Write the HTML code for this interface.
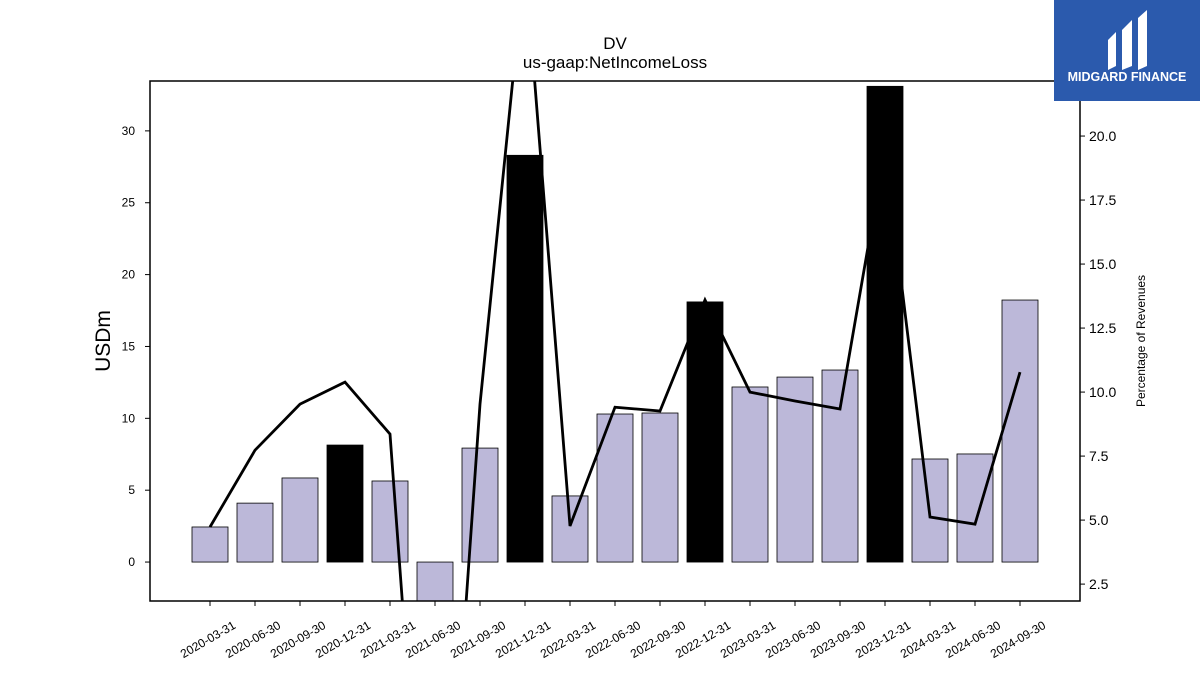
<!DOCTYPE html>
<html><head><meta charset="utf-8"><style>
html,body{margin:0;background:#fff;font-family:"Liberation Sans",sans-serif;width:1200px;height:675px;overflow:hidden}
svg{display:block}
</style></head><body>
<svg id="chart" width="1200" height="675" xmlns="http://www.w3.org/2000/svg" font-family="Liberation Sans, sans-serif">
<rect width="1200" height="675" fill="#fff"/>
<text x="615" y="49" text-anchor="middle" font-size="17">DV</text>
<text x="615" y="68" text-anchor="middle" font-size="17">us-gaap:NetIncomeLoss</text>
<g id="bars"></g>
<g id="line"></g>
<rect x="150" y="81" width="930" height="520" fill="none" stroke="#000" stroke-width="1.5"/>
<g id="lticks"></g>
<g id="rticks"></g>
<g id="xticks"></g>
<text transform="translate(110,341) rotate(-90)" text-anchor="middle" font-size="21">USDm</text>
<text transform="translate(1145,341) rotate(-90)" text-anchor="middle" font-size="12">Percentage of Revenues</text>
<g>
<rect x="1054" y="0" width="146" height="101" fill="#2b5aad"/>
<path d="M1108 40 L1116 32 L1116 66 L1108 70 Z M1122 30 L1132 20 L1132 66 L1122 70 Z M1138 18 L1147 10 L1147 66 L1138 70 Z" fill="#fff"/>
<text x="1127" y="81" text-anchor="middle" font-size="12.5" font-weight="bold" fill="#fff">MIDGARD FINANCE</text>
</g>
</svg>
<script>
const categories=["2020-03-31","2020-06-30","2020-09-30","2020-12-31","2021-03-31","2021-06-30","2021-09-30","2021-12-31","2022-03-31","2022-06-30","2022-09-30","2022-12-31","2023-03-31","2023-06-30","2023-09-30","2023-12-31","2024-03-31","2024-06-30","2024-09-30"];
const netIncome=[2.44,4.1,5.85,8.14,5.64,-3.2,7.93,28.3,4.6,10.3,10.37,18.1,12.18,12.87,13.36,33.1,7.17,7.52,18.23];
const highlighted=[false,false,false,true,false,false,false,true,false,false,false,true,false,false,false,true,false,false,false];
const pctRevenue=[4.73,7.73,9.53,10.39,8.36,-15.5,9.53,26.9,4.77,9.41,9.26,13.6,10.0,9.65,9.34,19.5,5.12,4.84,10.78];
const leftTicks=[0,5,10,15,20,25,30];
const rightTicks=[2.5,5.0,7.5,10.0,12.5,15.0,17.5,20.0];
const NS="http://www.w3.org/2000/svg";
const X0=150,X1=1080,Y0=81,Y1=601;
const lMin=-2.71,lMax=33.47,rMin=1.84,rMax=22.15;
const xs=i=>210+i*45;
const yl=v=>Y1-(v-lMin)/(lMax-lMin)*(Y1-Y0);
const yr=v=>Y1-(v-rMin)/(rMax-rMin)*(Y1-Y0);
function mk(t,a,p){const e=document.createElementNS(NS,t);for(const k in a)e.setAttribute(k,a[k]);p.appendChild(e);return e;}
const svg=document.getElementById('chart');
const defs=mk('defs',{},svg);const cp=mk('clipPath',{id:'clip'},defs);mk('rect',{x:X0,y:Y0,width:X1-X0,height:Y1-Y0},cp);
const bars=document.getElementById('bars');bars.setAttribute('clip-path','url(#clip)');
categories.forEach((c,i)=>{const v=netIncome[i];const a=yl(0),b=yl(v);
const r=mk('rect',{x:xs(i)-18,y:Math.min(a,b),width:36,height:Math.abs(a-b),fill:highlighted[i]?'#000':'#bcb8d9',stroke:'#000','stroke-width':0.8},bars);

});
const line=document.getElementById('line');line.setAttribute('clip-path','url(#clip)');
const pl=mk('polyline',{points:pctRevenue.map((v,i)=>xs(i)+','+yr(v)).join(' '),fill:'none',stroke:'#000','stroke-width':2.8},line);


const lt=document.getElementById('lticks');
leftTicks.forEach(v=>{const y=yl(v);mk('line',{x1:X0-5,x2:X0,y1:y,y2:y,stroke:'#000'},lt);
const t=mk('text',{x:X0-15,y:y+4,'text-anchor':'end','font-size':12},lt);t.textContent=v;

});
const rt=document.getElementById('rticks');
rightTicks.forEach(v=>{const y=yr(v);mk('line',{x1:X1,x2:X1+5,y1:y,y2:y,stroke:'#000'},rt);
const t=mk('text',{x:X1+9,y:y+5,'font-size':14},rt);t.textContent=v.toFixed(1);

});
const xt=document.getElementById('xticks');
categories.forEach((c,i)=>{const x=xs(i);mk('line',{x1:x,x2:x,y1:Y1,y2:Y1+5,stroke:'#000'},xt);
const t=mk('text',{transform:`translate(${x},${Y1+42}) rotate(-30)`,'text-anchor':'middle','font-size':12},xt);t.textContent=c;

});
</script>
</body></html>
